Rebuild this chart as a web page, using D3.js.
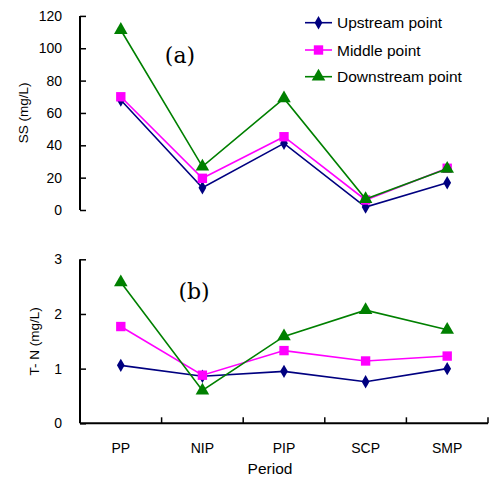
<!DOCTYPE html>
<html>
<head>
<meta charset="utf-8">
<script src="https://cdn.jsdelivr.net/npm/d3@7"></script>
<style>
  body { margin: 0; background: #fff; }
  svg text { font-family: "Liberation Sans", Arial, sans-serif; fill: #000; }
</style>
</head>
<body>
<svg width="491" height="477"></svg>
<script>
var periods = ["PP", "NIP", "PIP", "SCP", "SMP"];
var seriesNames = ["Upstream point", "Middle point", "Downstream point"];
var ssUp = [68, 13.8, 41.2, 1.8, 16.9];
var ssMid = [70, 19.6, 45.3, 6.2, 25.8];
var ssDown = [111.3, 26.8, 69, 6.8, 25.5];
var tnUp = [1.06, 0.86, 0.95, 0.76, 1.0];
var tnMid = [1.77, 0.88, 1.33, 1.14, 1.23];
var tnDown = [2.58, 0.6, 1.59, 2.07, 1.71];
var ssTicks = [0, 20, 40, 60, 80, 100, 120];
var tnTicks = [0, 1, 2, 3];

var colors = ["#000080", "#ff00ff", "#008000"];
var shapes = [d3.symbolDiamond, d3.symbolSquare, d3.symbolTriangle];
var sizes = [52, 88, 80];

var svg = d3.select("svg");
var left = 80, right = 488;

var x = d3.scaleBand().domain(periods).range([left, right]);

// draws one panel
function panel(vals, top, bottom, maxV, ticks, label, labelX, tag, tagX, tagY, xaxis) {
  var y = d3.scaleLinear().domain([0, maxV]).range([bottom, top]);
  var g = svg.append("g");

  var ax = g.append("g")
      .attr("transform", "translate(" + left + ",0)")
      .call(d3.axisRight(y).tickValues(ticks).tickSize(6).tickFormat(""));
  ax.select(".domain").attr("stroke-width", 2).attr("d", "M0," + bottom + "V" + top);
  ax.selectAll(".tick line").attr("stroke-width", 1.5);

  g.selectAll(".ylab")
    .data(ticks)
    .enter().append("text")
      .attr("x", 62)
      .attr("y", function(d) { return y(d); })
      .attr("dy", "0.36em")
      .attr("text-anchor", "end")
      .attr("font-size", 14)
      .text(function(d) { return d; });

  g.append("text")
      .attr("transform", "translate(" + labelX + "," + ((top + bottom) / 2) + ") rotate(-90)")
      .attr("text-anchor", "middle")
      .attr("font-size", 13.5)
      .text(label);

  g.append("text")
      .attr("x", tagX).attr("y", tagY)
      .attr("text-anchor", "middle")
      .attr("font-size", 22)
      .style("font-family", "'DejaVu Serif', serif")
      .text(tag);

  if (xaxis) {
    var xa = g.append("g")
        .attr("transform", "translate(0," + bottom + ")");
    xa.append("path")
        .attr("d", "M" + left + ",0H" + right)
        .attr("stroke", "#000").attr("stroke-width", 2).attr("fill", "none");
    xa.selectAll("line")
      .data(periods.slice(1).concat(["end"]))
      .enter().append("line")
        .attr("x1", function(d) { return d === "end" ? right : x(d); })
        .attr("x2", function(d) { return d === "end" ? right : x(d); })
        .attr("y1", 0).attr("y2", -6)
        .attr("stroke", "#000").attr("stroke-width", 1.5);
    xa.selectAll("text")
      .data(periods)
      .enter().append("text")
        .attr("x", function(d) { return x(d) + x.bandwidth() / 2; })
        .attr("y", 30)
        .attr("text-anchor", "middle")
        .attr("font-size", 14)
        .text(function(d) { return d; });
  }

  var line = d3.line()
      .x(function(d, i) { return x(periods[i]) + x.bandwidth() / 2; })
      .y(function(d) { return y(d); });

  vals.forEach(function(s, k) {
    g.append("path")
        .datum(s)
        .attr("d", line)
        .attr("fill", "none")
        .attr("stroke", colors[k])
        .attr("stroke-width", 1.6);
    g.selectAll(".m" + k)
      .data(s)
      .enter().append("path")
        .attr("transform", function(d, i) { return "translate(" + (x(periods[i]) + x.bandwidth() / 2) + "," + y(d) + ")"; })
        .attr("d", d3.symbol().type(shapes[k]).size(sizes[k]))
        .attr("fill", colors[k]);
  });
}

panel([ssUp, ssMid, ssDown], 15.9, 210, 120, ssTicks, "SS (mg/L)", 28, "(a)", 180, 63, false);
panel([tnUp, tnMid, tnDown], 259.3, 423.3, 3, tnTicks, "T- N (mg/L)", 39, "(b)", 194, 299, true);

svg.append("text")
    .attr("x", 270).attr("y", 474)
    .attr("text-anchor", "middle")
    .attr("font-size", 15.5)
    .text("Period");

// legend
var legend = svg.append("g")
  .selectAll("g")
  .data(seriesNames)
  .enter().append("g")
    .attr("transform", function(d, i) { return "translate(0," + [22.7, 50, 76.7][i] + ")"; });

legend.append("line")
    .attr("x1", 305).attr("x2", 332)
    .attr("stroke", function(d, i) { return colors[i]; })
    .attr("stroke-width", 1.6);
legend.append("path")
    .attr("transform", "translate(318.5,0)")
    .attr("d", function(d, i) { return d3.symbol().type(shapes[i]).size(sizes[i])(); })
    .attr("fill", function(d, i) { return colors[i]; });
legend.append("text")
    .attr("x", 337)
    .attr("dy", "0.36em")
    .attr("font-size", 15.5)
    .text(function(d) { return d; });
</script>
</body>
</html>
